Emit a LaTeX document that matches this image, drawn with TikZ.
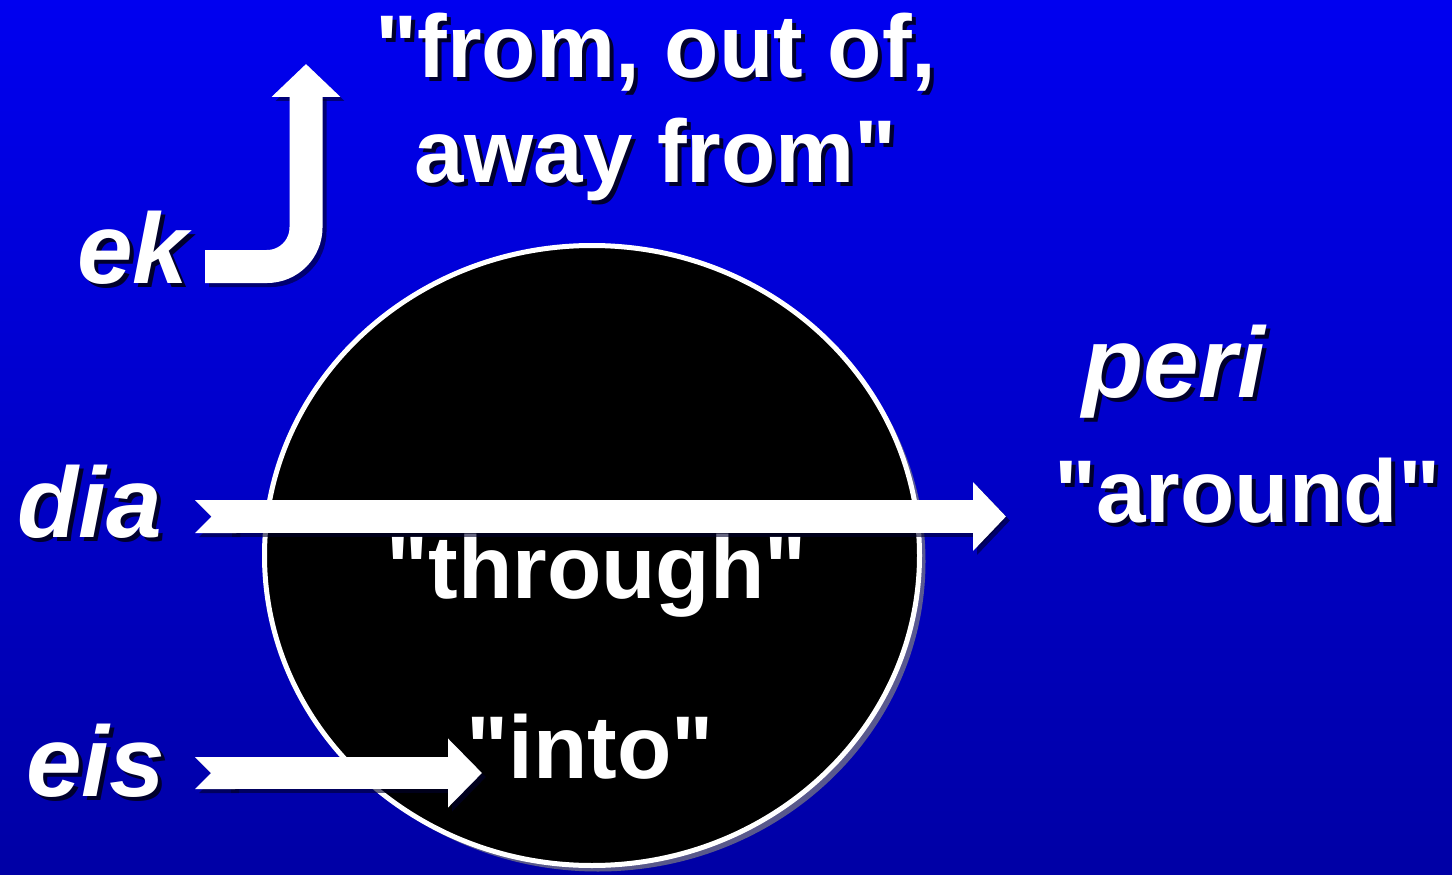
\documentclass[tikz,border=0pt]{standalone}
\usepackage{fontspec}
\setmainfont{Liberation Sans}[Ligatures=TeXOff]
\usepackage{tikz}
\usetikzlibrary{arrows.meta,shadows}
\definecolor{slideTop}{RGB}{0,0,240}
\definecolor{slideMid}{RGB}{0,0,224}
\definecolor{slideLow}{RGB}{0,0,165}
\definecolor{shadowNavy}{RGB}{0,0,45}
\newcommand{\shadowed}[1]{\rlap{\kern4pt\raisebox{-4pt}{\textcolor{shadowNavy}{#1}}}#1}

\begin{document}
\begin{tikzpicture}[x=1pt, y=-1pt,
    word/.style={text=white, inner sep=0pt, anchor=base west,
                 font=\fontsize{100}{110}\selectfont\bfseries\itshape},
    gloss/.style={text=white, inner sep=0pt, anchor=base west,
                  font=\fontsize{89}{105}\selectfont\bfseries},
    band/.style={white, line width=33pt},
    backband/.style={shadowNavy, opacity=0.6, transform canvas={shift={(4pt,-4pt)}}},
    headtip/.style={-{Triangle[length=33pt, width=67pt]}}]

    \useasboundingbox (0,0) rectangle (1452,875);
    \fill[top color=slideTop, middle color=slideMid, bottom color=slideLow]
      (0,0) rectangle (1452,875);

    % The ball
    \draw[white, line width=5pt, fill=black,
          drop shadow={shadow xshift=6pt, shadow yshift=-6pt, opacity=0.7}]
      (592,555.5) ellipse [x radius=327.5, y radius=310];

    \node[gloss] (through) at (386,598) {"through"};
    \node[gloss] (into) at (466,778) {"into"};

    % Arrow ends
    \coordinate (ekTail) at (205,266.5);
    \coordinate (ekTip) at (306,64);
    \coordinate (diaTail) at (195,516.5);
    \coordinate (diaTip) at (1006,516.5);
    \coordinate (eisTail) at (195,773);
    \coordinate (eisTip) at (482,773);

    % Shadows of the arrows
    \draw[band, backband, rounded corners=39pt, headtip] (ekTail) -| (ekTip);
    \draw[band, backband, {Triangle Cap[reversed]}-{Triangle[length=33pt, width=67pt]}]
      (diaTail) -- (diaTip);
    \draw[band, backband, line width=32pt, {Triangle Cap[reversed]}-{Triangle[length=34pt, width=67pt]}]
      (eisTail) -- (eisTip);

    % Arrows
    \draw[band, rounded corners=39pt, headtip] (ekTail) -| (ekTip);
    \draw[band, {Triangle Cap[reversed]}-{Triangle[length=33pt, width=67pt]}]
      (diaTail) -- (diaTip);
    \draw[band, line width=32pt, {Triangle Cap[reversed]}-{Triangle[length=34pt, width=67pt]}]
      (eisTail) -- (eisTip);

    % Words and glosses
    \node[gloss, anchor=north, align=center] (fromGloss) at (656,13)
      {\shadowed{"from, out of,}\\\shadowed{away from"}};
    \node[word] (ek) at (77,283) {\shadowed{ek}};
    \node[word] (dia) at (17,537) {\shadowed{dia}};
    \node[word] (eis) at (26,796) {\shadowed{eis}};
    \node[word] (peri) at (1082,397) {\shadowed{peri}};
    \node[gloss] (around) at (1054,522) {\shadowed{"around"}};

\end{tikzpicture}
\end{document}
